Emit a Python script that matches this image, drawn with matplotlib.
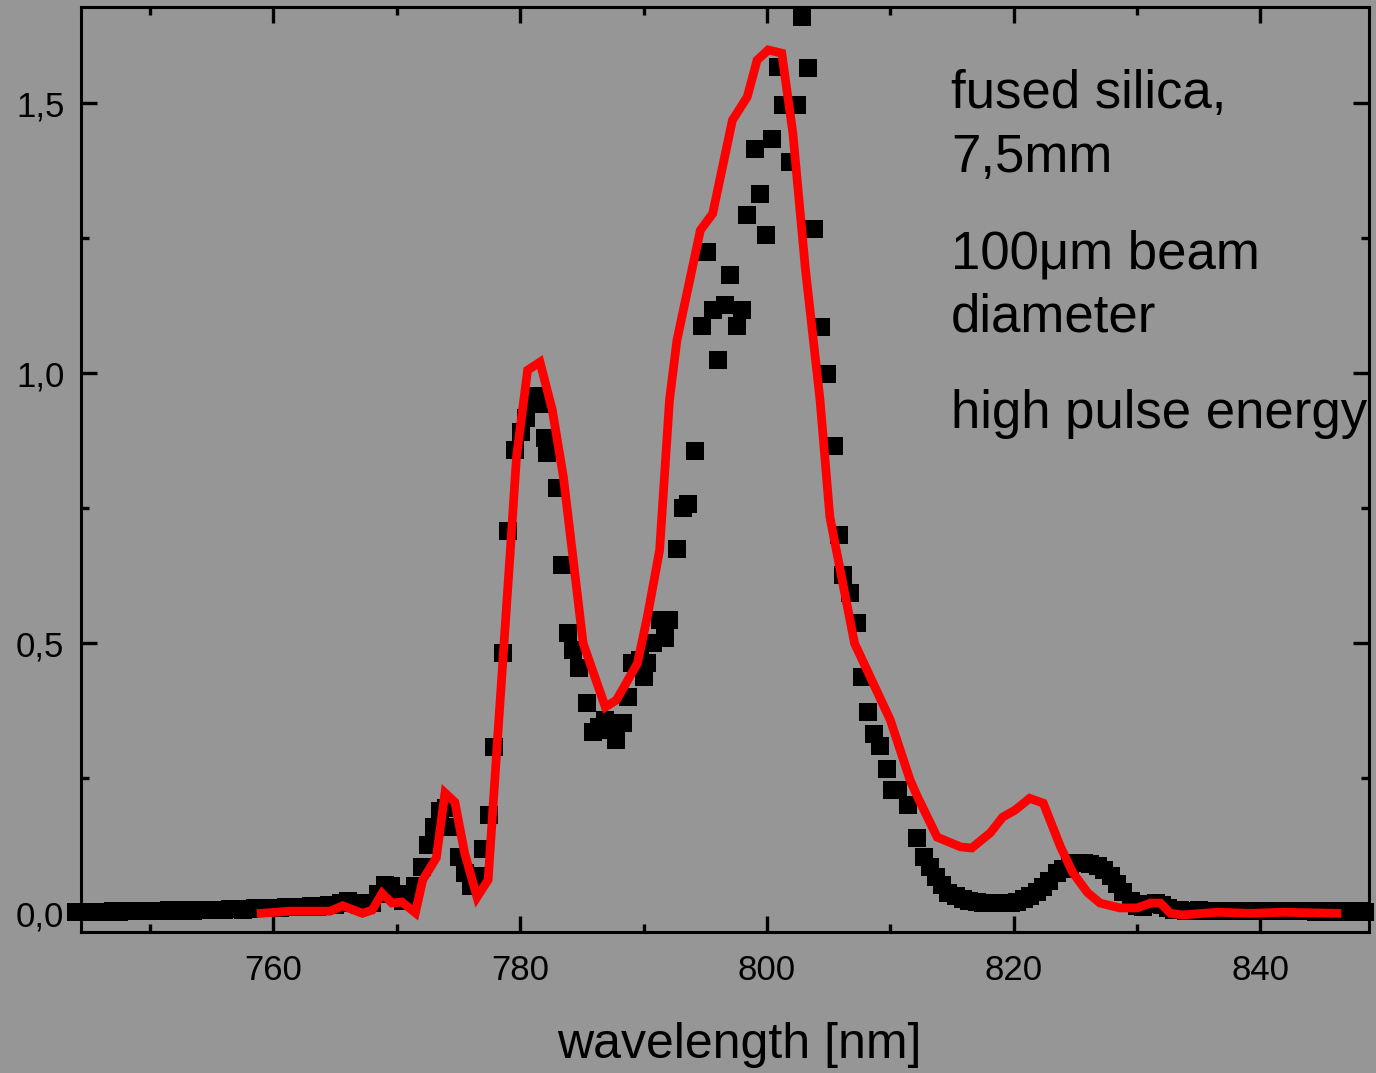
#! /usr/bin/env python3
import matplotlib
matplotlib.use("Agg")
import matplotlib.pyplot as plt
from matplotlib.ticker import MultipleLocator, FuncFormatter

# measured spectrum (black squares)
meas_nm = [744.0, 744.5, 745.0, 745.5, 746.0, 746.5, 747.0, 747.5, 748.0, 748.5,
           749.0, 749.5, 750.0, 750.5, 751.0, 751.5, 752.0, 752.5, 753.0, 753.5,
           754.0, 754.5, 755.0, 755.5, 756.0, 756.5, 757.0, 757.5, 758.0, 758.5,
           759.0, 759.5, 760.0, 760.5, 761.0, 761.5, 762.0, 762.5, 763.0, 763.5,
           764.0, 764.5, 765.0, 765.5, 766.0, 766.5, 767.0, 767.5, 768.0, 768.5,
           769.0, 769.5, 770.0, 770.5, 771.0, 771.5, 772.0, 772.5, 773.0, 773.5,
           774.0, 774.5, 775.0, 775.5, 776.0, 776.5, 777.0, 777.5, 777.9, 778.6,
           779.0, 779.6, 780.1, 780.5, 781.0, 781.3, 781.7, 782.0, 782.2, 783.0,
           783.4, 783.9, 784.3, 784.8, 785.4, 785.9, 786.4, 786.9, 787.3, 787.8,
           788.3, 788.7, 789.1, 789.7, 790.0, 790.3, 790.8, 791.3, 791.7, 792.1,
           792.7, 793.2, 793.6, 794.2, 794.7, 795.1, 795.6, 796.0, 796.6, 797.0,
           797.6, 798.0, 798.4, 799.0, 799.4, 799.9, 800.4, 800.9, 801.3, 801.9,
           802.4, 802.8, 803.3, 803.8, 804.4, 804.9, 805.4, 805.8, 806.2, 806.7,
           807.3, 807.7, 808.2, 808.7, 809.2, 809.7, 810.1, 810.6, 811.4, 812.2,
           812.7, 813.2, 813.7, 814.2, 814.7, 815.3, 815.9, 816.4, 817.0, 817.5,
           818.1, 818.7, 819.2, 819.8, 820.3, 820.8, 821.3, 821.9, 822.4, 822.9,
           823.5, 824.0, 824.6, 825.1, 825.7, 826.2, 826.8, 827.3, 827.9, 828.4,
           828.9, 829.5, 830.0, 830.5, 831.0, 831.5, 832.0, 832.5, 833.0, 833.5,
           834.0, 834.5, 835.0, 835.5, 836.0, 836.5, 837.0, 837.5, 838.0, 838.5,
           839.0, 839.5, 840.0, 840.5, 841.0, 841.5, 842.0, 842.5, 843.0, 843.5,
           844.0, 844.5, 845.0, 845.5, 846.0, 846.5, 847.0, 847.5, 848.0, 848.5]
meas_val = [0.002, 0.002, 0.003, 0.002, 0.003, 0.003, 0.004, 0.003, 0.004, 0.004,
            0.004, 0.005, 0.005, 0.004, 0.005, 0.006, 0.005, 0.006, 0.006, 0.005,
            0.006, 0.007, 0.007, 0.006, 0.007, 0.008, 0.008, 0.007, 0.008, 0.009,
            0.009, 0.010, 0.010, 0.010, 0.011, 0.011, 0.012, 0.012, 0.013, 0.012,
            0.014, 0.015, 0.016, 0.020, 0.022, 0.020, 0.016, 0.015, 0.020, 0.035,
            0.052, 0.050, 0.035, 0.022, 0.030, 0.050, 0.085, 0.126, 0.160, 0.190,
            0.195, 0.160, 0.105, 0.074, 0.050, 0.070, 0.120, 0.182, 0.308, 0.482,
            0.709, 0.859, 0.891, 0.917, 0.945, 0.959, 0.944, 0.881, 0.852, 0.787,
            0.645, 0.520, 0.487, 0.454, 0.389, 0.335, 0.345, 0.358, 0.340, 0.321,
            0.352, 0.400, 0.463, 0.469, 0.438, 0.463, 0.500, 0.543, 0.510, 0.543,
            0.674, 0.750, 0.759, 0.856, 1.087, 1.224, 1.117, 1.024, 1.126, 1.182,
            1.087, 1.117, 1.293, 1.416, 1.333, 1.256, 1.435, 1.567, 1.497, 1.391,
            1.497, 1.660, 1.565, 1.267, 1.086, 0.999, 0.865, 0.700, 0.626, 0.594,
            0.537, 0.438, 0.372, 0.332, 0.310, 0.267, 0.228, 0.228, 0.200, 0.140,
            0.105, 0.086, 0.068, 0.052, 0.038, 0.032, 0.027, 0.023, 0.021, 0.020,
            0.019, 0.019, 0.019, 0.020, 0.021, 0.026, 0.032, 0.039, 0.048, 0.060,
            0.074, 0.082, 0.090, 0.093, 0.094, 0.092, 0.087, 0.080, 0.070, 0.055,
            0.040, 0.022, 0.014, 0.012, 0.017, 0.020, 0.016, 0.010, 0.007, 0.006,
            0.005, 0.005, 0.006, 0.005, 0.005, 0.004, 0.005, 0.005, 0.004, 0.005,
            0.005, 0.004, 0.004, 0.005, 0.004, 0.004, 0.005, 0.004, 0.004, 0.004,
            0.004, 0.003, 0.004, 0.004, 0.003, 0.004, 0.003, 0.003, 0.004, 0.003]

# simulated spectrum (red line)
sim_nm = [759.0, 761.3, 764.6, 765.6, 767.2, 768.0, 768.8, 769.6, 770.4, 771.5,
          772.1, 773.2, 773.9, 774.7, 775.5, 776.5, 777.4, 778.1, 779.2, 779.7,
          780.6, 781.6, 782.6, 783.5, 785.1, 786.9, 787.8, 789.5, 790.3, 791.3,
          792.1, 792.7, 794.6, 795.6, 797.2, 798.4, 799.2, 800.1, 801.2, 802.1,
          803.1, 804.3, 805.1, 807.1, 810.0, 811.6, 812.2, 813.8, 815.7, 816.6,
          818.1, 819.1, 820.1, 821.3, 822.4, 823.8, 824.8, 826.0, 827.0, 828.6,
          830.0, 831.1, 831.9, 832.7, 833.7, 836.5, 839.2, 841.8, 846.2]
sim_val = [0.000, 0.004, 0.004, 0.014, 0.000, 0.006, 0.037, 0.019, 0.021, 0.001,
           0.062, 0.103, 0.223, 0.206, 0.111, 0.030, 0.062, 0.302, 0.673, 0.846,
           1.006, 1.021, 0.932, 0.808, 0.500, 0.382, 0.395, 0.463, 0.549, 0.673,
           0.951, 1.061, 1.265, 1.296, 1.469, 1.512, 1.580, 1.599, 1.593, 1.445,
           1.197, 0.951, 0.734, 0.500, 0.358, 0.247, 0.216, 0.141, 0.123, 0.121,
           0.149, 0.178, 0.191, 0.213, 0.204, 0.123, 0.075, 0.038, 0.019, 0.010,
           0.010, 0.019, 0.019, 0.000, -0.003, 0.002, 0.000, 0.002, 0.000]

notes = ["fused silica,", "7,5mm", "100\u03bcm beam", "diameter", "high pulse energy"]
note_y = [1.491, 1.373, 1.195, 1.077, 0.899]

GRAY = "#969696"


def comma(v, pos):
    # german style decimal comma
    return ("%.1f" % v).replace(".", ",")


def main():
    plt.rcParams["font.family"] = ["Liberation Sans", "DejaVu Sans"]
    fig = plt.figure(figsize=(13.76, 10.73), dpi=100, facecolor=GRAY)
    ax = fig.add_axes([0.0589, 0.1317, 0.9360, 0.8615])
    ax.set_facecolor(GRAY)

    ax.plot(meas_nm, meas_val, ls="none", marker="s", ms=12.4, color="black",
            mec="black", mew=0, clip_on=False, zorder=2)
    ax.plot(sim_nm, sim_val, color="#ff0000", lw=6.3, solid_joinstyle="miter",
            zorder=3)

    ax.set_xlim(744.4, 848.8)
    ax.set_ylim(-0.034, 1.678)

    ax.xaxis.set_major_locator(MultipleLocator(20))
    ax.xaxis.set_minor_locator(MultipleLocator(10))
    ax.yaxis.set_major_locator(MultipleLocator(0.5))
    ax.yaxis.set_minor_locator(MultipleLocator(0.25))
    ax.yaxis.set_major_formatter(FuncFormatter(comma))

    ax.tick_params(which="both", direction="in", top=True, right=True,
                   width=2.4, colors="black", labelsize=25)
    ax.tick_params(which="major", length=11.5)
    ax.tick_params(which="minor", length=5.8)
    ax.tick_params(axis="x", pad=16)
    ax.tick_params(axis="y", pad=12)
    for s in ax.spines.values():
        s.set_linewidth(2.2)

    ax.set_xlabel("wavelength [nm]", fontsize=36, va="center")
    ax.xaxis.set_label_coords(0.511, -0.1226)

    for t, y in zip(notes, note_y):
        ax.text(814.9, y, t, fontsize=38, va="baseline", ha="left",
                clip_on=True)

    fig.savefig("out.png", dpi=100, facecolor=GRAY)


if __name__ == "__main__":
    main()
